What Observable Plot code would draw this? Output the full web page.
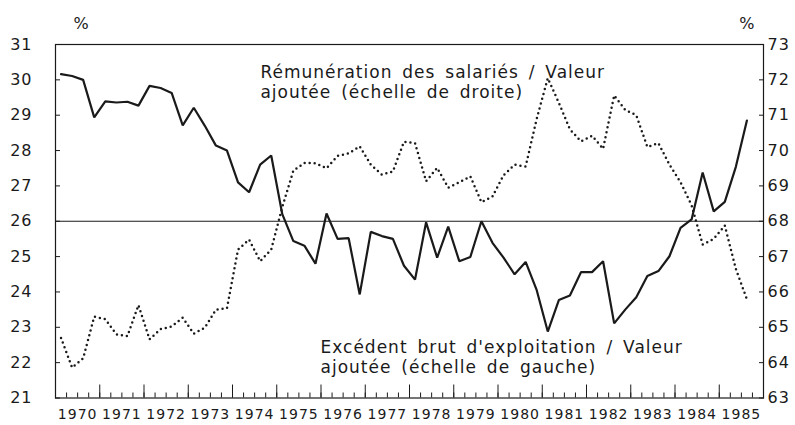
<!DOCTYPE html>
<html><head><meta charset="utf-8">
<script src="https://cdn.jsdelivr.net/npm/d3@7"></script>
<script src="https://cdn.jsdelivr.net/npm/@observablehq/plot@0.6"></script>
<style>
html,body{margin:0;padding:0;background:#fff;}
</style></head><body><div id="chart"></div>
<script>
// Quarterly series, first quarter of 1970 to third quarter of 1985
const firstYear = 1970;
const yearLabels = [1970, 1971, 1972, 1973, 1974, 1975, 1976, 1977, 1978, 1979, 1980, 1981, 1982, 1983, 1984, 1985];
const leftTicks = [21, 22, 23, 24, 25, 26, 27, 28, 29, 30, 31];
const rightTicks = [63, 64, 65, 66, 67, 68, 69, 70, 71, 72, 73];
const referenceLevel = 26;

// Excédent brut d'exploitation / Valeur ajoutée (échelle de gauche), %
const ebe = [
  30.16, 30.11, 30.00, 28.94, 29.39, 29.36, 29.38, 29.27,
  29.83, 29.77, 29.63, 28.71, 29.21, 28.70, 28.14, 28.00,
  27.10, 26.82, 27.60, 27.86, 26.20, 25.44, 25.31, 24.80,
  26.22, 25.50, 25.52, 23.93, 25.70, 25.58, 25.50, 24.74,
  24.35, 25.97, 24.97, 25.85, 24.87, 24.99, 26.00, 25.39,
  24.97, 24.50, 24.85, 24.05, 22.88, 23.77, 23.90, 24.56,
  24.56, 24.87, 23.11, 23.50, 23.85, 24.45, 24.59, 25.01,
  25.81, 26.05, 27.38, 26.28, 26.55, 27.54, 28.85
];
// Rémunération des salariés / Valeur ajoutée (échelle de droite), %
const remu = [
  64.70, 63.86, 64.12, 65.30, 65.23, 64.80, 64.75, 65.63,
  64.66, 64.95, 65.02, 65.27, 64.82, 64.99, 65.50, 65.54,
  67.20, 67.48, 66.87, 67.20, 68.40, 69.43, 69.65, 69.64,
  69.50, 69.85, 69.92, 70.12, 69.60, 69.32, 69.41, 70.25,
  70.21, 69.13, 69.51, 68.95, 69.10, 69.27, 68.54, 68.70,
  69.30, 69.60, 69.55, 70.90, 72.05, 71.35, 70.60, 70.26,
  70.42, 70.05, 71.56, 71.15, 71.00, 70.10, 70.21, 69.60,
  69.10, 68.45, 67.34, 67.50, 67.88, 66.65, 65.79
];
const annotationText = [
  "Rémunération des salariés / Valeur\najoutée (échelle de droite)",
  "Excédent brut d'exploitation / Valeur\najoutée (échelle de gauche)"
];
const annotationYear = [1974.63, 1975.99];
const annotationLevel = [30.45, 22.67];

const rightOffset = rightTicks[0] - leftTicks[0];
const rows = ebe.map((v, i) => ({t: firstYear + (i + 0.5) / 4, ebe: v, remu: remu[i]}));
const lastYear = yearLabels[yearLabels.length - 1] + 1;
const yearBounds = d3.range(firstYear, lastYear + 1);
const quarterBounds = d3.range(0, (lastYear - firstYear) * 4 + 1).map(i => firstYear + i / 4);
const annotations = annotationText.map((text, i) => ({text, x: annotationYear[i], y: annotationLevel[i]}));

const ink = "#1a1a1a";
const chart = Plot.plot({
  width: 795,
  height: 425,
  marginLeft: 55,
  marginRight: 32,
  marginTop: 44,
  marginBottom: 27.5,
  style: {fontFamily: "DejaVu Sans", fontSize: "16px", color: ink, background: "#fff", letterSpacing: "1px", wordSpacing: "3.5px"},
  x: {domain: [firstYear, lastYear], label: null},
  y: {domain: [leftTicks[0], leftTicks[leftTicks.length - 1]], label: null},
  marks: [
    Plot.ruleY([referenceLevel], {stroke: ink, strokeWidth: 1.1}),
    // inward tick marks
    Plot.axisY(leftTicks, {anchor: "left", tickSize: 5, dx: 5, tickFormat: () => "", stroke: ink}),
    Plot.axisY(leftTicks, {anchor: "right", tickSize: 5, dx: -5, tickFormat: () => "", stroke: ink}),
    Plot.axisX(quarterBounds, {anchor: "bottom", tickSize: 5, dy: -5, tickFormat: () => "", stroke: ink}),
    Plot.axisX(yearBounds, {anchor: "bottom", tickSize: 13, dy: -13, tickFormat: () => "", stroke: ink}),
    // tick labels
    Plot.axisY(leftTicks, {anchor: "left", tickSize: 0, tickPadding: 23, fontSize: 16}),
    Plot.axisY(leftTicks, {anchor: "right", tickSize: 0, tickPadding: 4, fontSize: 16, tickFormat: d => d + rightOffset}),
    Plot.axisX(yearLabels.map(y => y + 0.5), {anchor: "bottom", tickSize: 0, tickPadding: 11, fontSize: 14, tickFormat: d => String(Math.floor(d))}),
    Plot.frame({stroke: ink, strokeWidth: 1.2}),
    Plot.line(rows, {x: "t", y: d => d.remu - rightOffset, stroke: ink, strokeWidth: 2.5, strokeDasharray: "0,5", strokeLinecap: "round"}),
    Plot.line(rows, {x: "t", y: "ebe", stroke: ink, strokeWidth: 2.2, strokeLinejoin: "miter"}),
    Plot.text(annotations, {x: "x", y: "y", text: "text", textAnchor: "start", lineAnchor: "top", lineHeight: 1.18, fontSize: 17, fill: ink}),
    Plot.text(["%"], {text: d => d, frameAnchor: "top-left", dx: 18, dy: -16, lineAnchor: "bottom", fontSize: 16, fill: ink}),
    Plot.text(["%"], {text: d => d, frameAnchor: "top-right", dx: -8, dy: -16, lineAnchor: "bottom", fontSize: 16, fill: ink})
  ]
});
document.getElementById("chart").appendChild(chart);
</script>
</body></html>
